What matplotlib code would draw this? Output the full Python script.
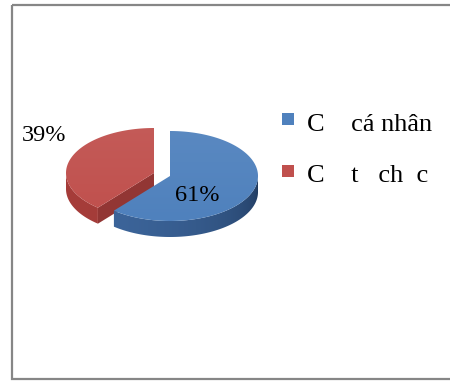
import numpy as np
import matplotlib.pyplot as plt
from matplotlib.patches import Polygon, Rectangle
from matplotlib.colors import to_rgb

# pie shares (clockwise from 12 o'clock) and legend entries
shares = [61, 39]
pct_labels = ["61%", "39%"]
legend_labels = ["C    cá nhân", "C    t   ch  c"]
top_colors = ["#4F81BD", "#C0504D"]
side_light = ["#3D669C", "#A63D3A"]
side_dark = ["#203A5E", "#7E2F2D"]
cut_colors = ["#2E5586", "#923634"]

plt.rcParams['font.family'] = ['Liberation Serif', 'DejaVu Serif']

fig = plt.figure(figsize=(4.5, 3.82), dpi=100)
ax = fig.add_axes([0, 0, 1, 1])

# ellipse geometry of the 3d pie, in pixel units
cx, cy = 170, 176
rx, ry = 88, 45
depth = 16
offsets = [(0, 0), (-16, -3)]


def rim(a, ox, oy, dz=0):
    return ox + rx * np.cos(a), oy - ry * np.sin(a) + dz


def mix(c1, c2, t):
    c1, c2 = np.array(to_rgb(c1)), np.array(to_rgb(c2))
    return tuple(c1 + (c2 - c1) * t)


start = 90.0
slices = []
for i, s in enumerate(shares):
    end = start - 360.0 * s / 100
    slices.append((i, start, end))
    start = end

# back slice first, then the front one
for i, a0, a1 in [slices[1], slices[0]]:
    ox, oy = cx + offsets[i][0], cy + offsets[i][1]

    # radial cut faces that face the viewer
    for a, sgn in [(a0, 1), (a1, -1)]:
        normal = np.radians(a + sgn * 90)
        if np.sin(normal) < -1e-6:
            x, y = rim(np.radians(a), ox, oy)
            quad = [(ox, oy), (x, y), (x, y + depth), (ox, oy + depth)]
            ax.add_patch(Polygon(quad, closed=True, fc=cut_colors[i], ec='none', zorder=2))

    # outer wall, only the front half shows; shaded by the angle under each column
    angs = np.linspace(a0, a1, 400)
    front = [a for a in angs if np.sin(np.radians(a)) < 0]
    if front:
        upper = [rim(np.radians(a), ox, oy) for a in front]
        lower = [rim(np.radians(a), ox, oy, depth) for a in front[::-1]]
        wall = Polygon(upper + lower, closed=True, fc='none', ec='none', zorder=3)
        ax.add_patch(wall)
        xs = np.linspace(ox - rx, ox + rx, 256)
        deg = 360 - np.degrees(np.arccos(np.clip((xs - ox) / rx, -1, 1)))
        t = np.clip((deg - 180) / 180, 0, 1) ** 2.5
        cols = np.array([mix(side_light[i], side_dark[i], v) for v in t])
        im = ax.imshow(cols[None, :, :], extent=[ox - rx, ox + rx, oy + ry + depth, oy - ry],
                       aspect='auto', zorder=3, interpolation='bilinear')
        im.set_clip_path(wall)

    # top face with a soft vertical gradient
    arc = [rim(np.radians(a), ox, oy) for a in np.linspace(a0, a1, 200)]
    top = Polygon([(ox, oy)] + arc, closed=True, fc='none', ec='none', zorder=4)
    ax.add_patch(top)
    base = top_colors[i]
    grad = np.array([mix(base, "#FFFFFF", 0.06 * (1 - v)) for v in np.linspace(0, 1, 64)])
    im = ax.imshow(grad[:, None, :], extent=[ox - rx, ox + rx, oy + ry, oy - ry],
                   aspect='auto', zorder=4, interpolation='bilinear')
    im.set_clip_path(top)

# percentage labels
ax.text(175, 201, pct_labels[0], fontsize=17.5, ha='left', va='baseline', zorder=6)
ax.text(22, 141, pct_labels[1], fontsize=17.5, ha='left', va='baseline', zorder=6)

# legend
for j, (lab, col) in enumerate(zip(legend_labels, top_colors)):
    ax.add_patch(Rectangle((282, 113 + 52 * j), 12, 12, fc=col, ec='none'))
    ax.text(307, 131 + 51 * j, lab, fontsize=19, ha='left', va='baseline')

# chart frame
ax.add_patch(Rectangle((12, 4.5), 450, 374.5, fill=False, ec='#868686', lw=1.6))

ax.set_xlim(0, 450)
ax.set_ylim(382, 0)
ax.axis('off')

fig.savefig("out.png", dpi=100)
